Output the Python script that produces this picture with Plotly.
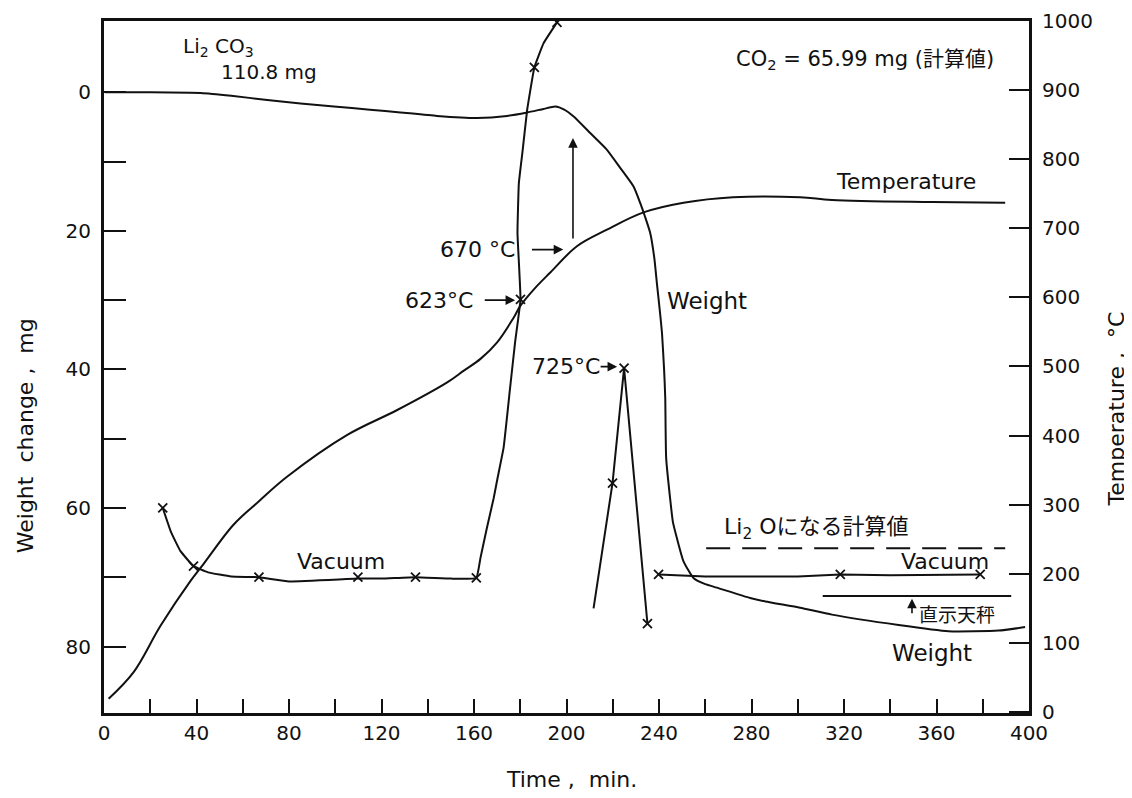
import plotly.graph_objects as go

# ---------------- data ----------------
# Temperature curve (right axis, degC)
temp_t = [2, 12.9, 24.5, 37.5, 43, 56, 67, 79, 105.2, 126.8, 148.4, 155.6, 162.8, 170, 177.2,
          180.1, 186, 193, 204.5, 217.5, 233.3, 250.6, 272, 301, 314.8, 358, 389.7]
temp_T = [19, 58, 125, 190, 214, 271, 305, 340, 401, 437, 477, 494, 511, 535, 571,
          588, 612, 636, 674, 698, 723, 737, 745, 745, 741, 738, 737]

# Weight change curve (left axis, mg)
wt_t = [0.5, 20, 41.8, 55, 70.6, 85, 99.4, 115, 128.2, 144, 161.4, 174.3, 183, 190,
        195.2, 199, 203.1, 210, 217.5, 223, 229, 231.9, 234, 236.2, 238, 239.1, 240.5,
        241.3, 242.2, 242.7, 243.1, 244.8, 246, 247.7, 250.6, 254.9, 260, 265, 279.4,
        286, 301, 314.8, 343.6, 365.2, 386.8, 398.3]
wt_w = [0.0, 0.0, 0.1, 0.5, 1.1, 1.6, 2.05, 2.5, 2.9, 3.4, 3.7, 3.4, 2.9, 2.4,
        2.05, 2.5, 3.5, 5.8, 8.3, 10.8, 13.6, 16, 18, 20.3, 24, 27.6, 32,
        34.8, 40, 44.1, 52.8, 58.6, 62, 64.3, 67.7, 70.1, 71, 71.5, 73.0,
        73.5, 74.4, 75.4, 76.9, 77.8, 77.7, 77.2]

# Vacuum curves (plotted on the left scale)
vac1_t = [25.4, 29, 33, 38.7, 45, 55, 67, 80, 109.8, 120, 134.7, 150, 161, 162.8, 165.5,
          168.5, 170, 172.8, 175.5, 177.8, 180.1, 178.8, 179.4, 181, 183, 186.1, 190.1, 195.9]
vac1_w = [60.0, 63.5, 66.2, 68.4, 69.3, 69.9, 70.0, 70.6, 70.2, 70.2, 70.0, 70.2, 70.1, 67.2, 63,
          58.6, 56, 51.3, 43, 36, 29.9, 20.3, 13.1, 8.5, 2.5, -3.6, -7.1, -10.1]
vac2_t = [211.7, 219.9, 224.9, 235.0]
vac2_w = [74.5, 56.4, 39.8, 76.7]
vac3_t = [239.8, 260, 300, 318.4, 340, 378.9]
vac3_w = [69.6, 69.9, 69.9, 69.6, 69.7, 69.6]
mark_t = [25.4, 38.7, 67, 109.8, 134.7, 161, 180.1, 186.1, 195.9,
          219.9, 224.9, 235.0, 239.8, 318.4, 378.9]
mark_w = [60.0, 68.4, 70.0, 70.0, 70.0, 70.1, 29.9, -3.6, -10.1,
          56.4, 39.8, 76.7, 69.6, 69.6, 69.6]

# Reference lines
li2o_t = [260.4, 389.7]
li2o_w = [65.8, 65.8]
balance_t = [310.8, 392.3]
balance_w = [72.7, 72.7]

x_ticks = list(range(0, 401, 20))
x_labels = [str(v) if v % 40 == 0 else "" for v in x_ticks]
yl_ticks = list(range(0, 81, 10))
yl_labels = [str(v) if v % 20 == 0 else "" for v in yl_ticks]
yr_ticks = list(range(0, 1001, 100))
yr_labels = [str(v) for v in yr_ticks]

FONT = "DejaVu Sans, Noto Sans CJK JP, sans-serif"
INK = "#111111"

fig = go.Figure()
line = dict(color=INK, width=2)
fig.add_trace(go.Scatter(x=temp_t, y=temp_T, yaxis="y2", mode="lines", line=dict(line, shape="spline", smoothing=1.0)))
fig.add_trace(go.Scatter(x=wt_t, y=wt_w, mode="lines", line=dict(line, shape="spline", smoothing=0.5)))
fig.add_trace(go.Scatter(x=vac1_t, y=vac1_w, mode="lines", line=dict(line, shape="spline", smoothing=0.3)))
fig.add_trace(go.Scatter(x=vac2_t, y=vac2_w, mode="lines", line=line))
fig.add_trace(go.Scatter(x=vac3_t, y=vac3_w, mode="lines", line=line))
fig.add_trace(go.Scatter(x=mark_t, y=mark_w, mode="markers",
                         marker=dict(symbol="x-thin", size=9, line=dict(color=INK, width=1.8))))
fig.add_trace(go.Scatter(x=li2o_t, y=li2o_w, mode="lines", line=dict(color=INK, width=2, dash="24px,12px")))
fig.add_trace(go.Scatter(x=balance_t, y=balance_w, mode="lines", line=line))

def txt(t, w, s, size=22):
    return dict(x=t, y=w, xref="x", yref="y", text=s, showarrow=False,
                xanchor="left", yanchor="middle", font=dict(size=size, color=INK, family=FONT))

def arrow(t, w, at, aw):
    return dict(x=t, y=w, ax=at, ay=aw, xref="x", yref="y", axref="x", ayref="y",
                text="", showarrow=True, arrowhead=2, arrowsize=1.2, arrowwidth=1.6,
                arrowcolor=INK)

def title(x, y, s, angle=0):
    return dict(x=x, y=y, xref="paper", yref="paper", text=s, textangle=angle,
                xanchor="center", yanchor="middle", showarrow=False,
                font=dict(size=22, color=INK, family=FONT))

annos = [
    txt(33.2, -6.6, "Li<sub>2</sub> CO<sub>3</sub>", 20),
    txt(49.6, -3.0, "110.8 mg", 20),
    txt(272.4, -4.7, "CO<sub>2</sub> = 65.99 mg (計算値)", 21),
    txt(315.6, 12.9, "Temperature"),
    txt(144.6, 22.7, "670 °C"),
    arrow(198.6, 22.7, 184.4, 22.7),
    arrow(202.8, 6.6, 202.8, 21.3),
    txt(129.5, 30.0, "623°C"),
    arrow(177.8, 30.0, 164.0, 30.0),
    txt(242.6, 30.1, "Weight", 23),
    txt(184.4, 39.6, "725°C"),
    arrow(221.9, 39.6, 214.1, 39.6),
    txt(82.8, 67.7, "Vacuum"),
    txt(267.2, 62.9, "Li<sub>2</sub> Oになる計算値"),
    txt(343.6, 67.7, "Vacuum"),
    arrow(349.4, 73.1, 349.4, 75.4),
    txt(351.5, 75.4, "直示天秤", 19),
    txt(339.8, 80.9, "Weight", 23),
    title(-0.0854, 0.40, "Weight  change ,  mg", -90),
    title(1.095, 0.44, "Temperature ,  °C", -90),
    title(0.505, -0.0954, "Time ,  min."),
]

# The page adds an 8 px body margin, so the plot box is placed 8 px up/left.
fig.update_layout(
    width=1132, height=798,
    margin=dict(l=96, r=111, t=13, b=93, autoexpand=False),
    paper_bgcolor="white", plot_bgcolor="white",
    showlegend=False,
    font=dict(family=FONT, color=INK),
    annotations=annos,
    xaxis=dict(range=[0, 400], tickvals=x_ticks, ticktext=x_labels, ticks="inside",
               ticklen=14, tickwidth=2, tickcolor=INK, showline=True, linewidth=3,
               linecolor=INK, mirror=True, showgrid=False, zeroline=False, automargin=False,
               tickfont=dict(size=20, color=INK), ticklabelstandoff=0),
    yaxis=dict(range=[89.6, -10.3], tickvals=yl_ticks, ticktext=yl_labels, ticks="inside",
               ticklen=22, tickwidth=2, tickcolor=INK, showline=True, linewidth=3,
               linecolor=INK, showgrid=False, zeroline=False, automargin=False,
               tickfont=dict(size=20, color=INK), ticklabelstandoff=6),
    yaxis2=dict(range=[-1.5, 1000], overlaying="y", side="right", tickvals=yr_ticks,
                ticktext=yr_labels, ticks="inside", ticklen=20, tickwidth=2, tickcolor=INK,
                showline=True, linewidth=3, linecolor=INK, showgrid=False, zeroline=False,
                automargin=False, tickfont=dict(size=20, color=INK), ticklabelstandoff=6),
)

fig.write_html("out.html")
